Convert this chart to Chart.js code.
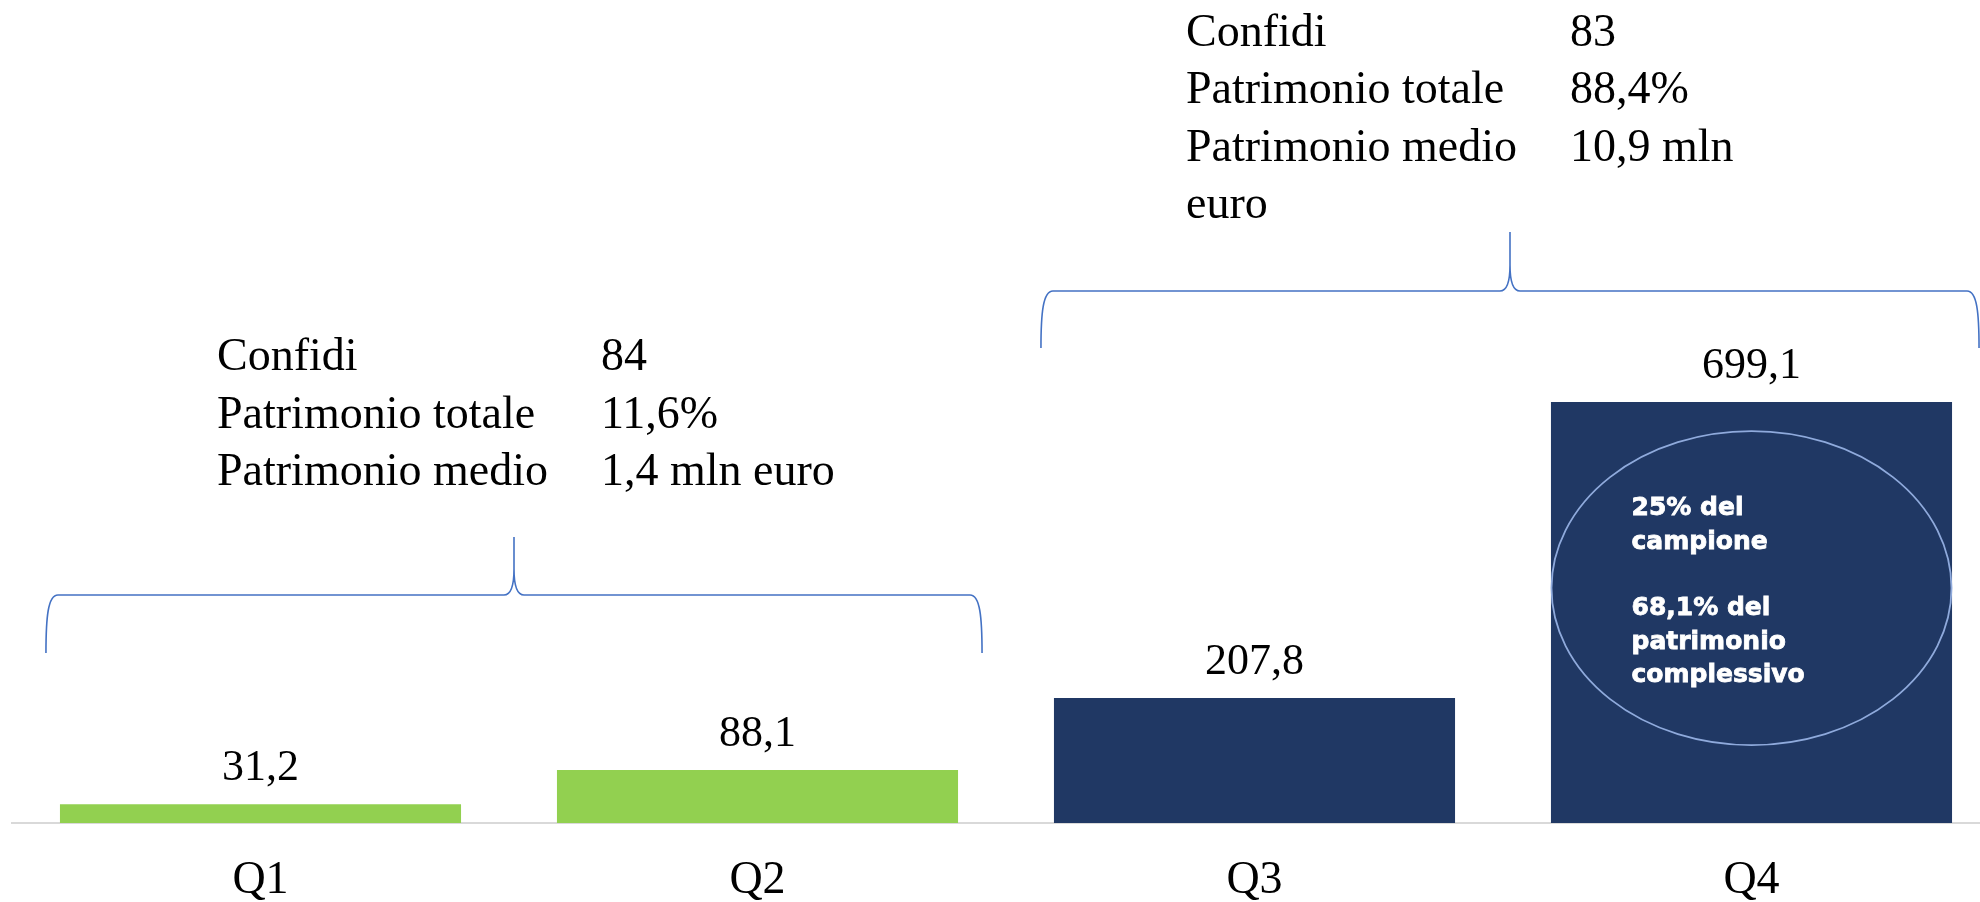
<!DOCTYPE html>
<html><head><meta charset="utf-8">
<script src="https://cdn.jsdelivr.net/npm/chart.js@4.4.0/dist/chart.umd.min.js"></script>
<style>
html,body{margin:0;padding:0;background:#fff;overflow:hidden;width:1980px;height:902px}
canvas{position:absolute;left:0;top:0}
</style></head>
<body><canvas id="c" width="2000" height="902"></canvas>
<script>
// ---- data ----
const categories = ['Q1', 'Q2', 'Q3', 'Q4'];
const values = [31.2, 88.1, 207.8, 699.1];
const barColors = ['#92D050', '#92D050', '#203864', '#203864'];
const leftGroupLabels = ['Confidi', 'Patrimonio totale', 'Patrimonio medio'];
const leftGroupValues = ['84', '11,6%', '1,4 mln euro'];
const rightGroupLabels = ['Confidi', 'Patrimonio totale', 'Patrimonio medio', 'euro'];
const rightGroupValues = ['83', '88,4%', '10,9 mln', ''];
const calloutLines = ['25% del', 'campione', '', '68,1% del', 'patrimonio', 'complessivo'];

const SERIF = '"Liberation Serif", "Times New Roman", serif';

function fmt(v) { return v.toFixed(1).replace('.', ','); }

function drawBrace(ctx, L, R, hy, bottom, tip) {
  const C = (L + R) / 2;
  ctx.beginPath();
  ctx.moveTo(L, bottom);
  ctx.bezierCurveTo(L, hy + 22, L + 2, hy, L + 12, hy);
  ctx.lineTo(C - 10, hy);
  ctx.bezierCurveTo(C - 3, hy, C, hy - 8, C, hy - 26);
  ctx.lineTo(C, tip);
  ctx.moveTo(C, hy - 26);
  ctx.bezierCurveTo(C, hy - 8, C + 3, hy, C + 10, hy);
  ctx.lineTo(R - 12, hy);
  ctx.bezierCurveTo(R - 2, hy, R, hy + 22, R, bottom);
  ctx.strokeStyle = '#4472C4';
  ctx.lineWidth = 1.6;
  ctx.stroke();
}

const annotate = {
  id: 'annotate',
  afterDatasetsDraw(chart) {
    const ctx = chart.ctx;
    const bars = chart.getDatasetMeta(0).data;
    ctx.save();
    // value labels
    ctx.fillStyle = '#000';
    ctx.font = '44px ' + SERIF;
    ctx.textAlign = 'center';
    ctx.textBaseline = 'alphabetic';
    bars.forEach((b, i) => ctx.fillText(fmt(values[i]), b.x, b.y - 24));

    // callout ellipse on Q4
    const b3 = bars[3];
    const cy = b3.y + 186;
    ctx.beginPath();
    ctx.ellipse(b3.x, cy, 200, 157, 0, 0, Math.PI * 2);
    ctx.strokeStyle = '#8FAADC';
    ctx.lineWidth = 1.8;
    ctx.stroke();
    ctx.fillStyle = '#fff';
    ctx.strokeStyle = '#fff';
    ctx.lineWidth = 0.8;
    ctx.font = 'bold 25px "DejaVu Sans", Verdana, sans-serif';
    ctx.textAlign = 'left';
    calloutLines.forEach((t, i) => {
      ctx.fillText(t, b3.x - 120, cy - 73 + i * 33.4);
      ctx.strokeText(t, b3.x - 120, cy - 73 + i * 33.4);
    });

    // braces
    const half = (b) => b.width / 2;
    drawBrace(ctx, bars[0].x - half(bars[0]) - 14, bars[1].x + half(bars[1]) + 24, 595, 653, 537);
    drawBrace(ctx, bars[2].x - half(bars[2]) - 13, bars[3].x + half(bars[3]) + 27, 291, 348, 232);

    // group text blocks
    ctx.fillStyle = '#000';
    ctx.font = '46px ' + SERIF;
    ctx.textAlign = 'left';
    leftGroupLabels.forEach((t, i) => {
      ctx.fillText(t, 217, 370 + i * 57.5);
      ctx.fillText(leftGroupValues[i], 601, 370 + i * 57.5);
    });
    rightGroupLabels.forEach((t, i) => {
      ctx.fillText(t, 1186, 46 + i * 57.3);
      ctx.fillText(rightGroupValues[i], 1570, 46 + i * 57.3);
    });
    ctx.restore();
  }
};

new Chart(document.getElementById('c'), {
  type: 'bar',
  data: {
    labels: categories,
    datasets: [{
      data: values,
      backgroundColor: barColors,
      borderWidth: 0,
      categoryPercentage: 1,
      barPercentage: 0.807
    }]
  },
  options: {
    responsive: false,
    animation: false,
    devicePixelRatio: 1,
    layout: { padding: { left: 12, right: 0, top: 0, bottom: 0 } },
    plugins: { legend: { display: false }, tooltip: { enabled: false } },
    scales: {
      x: {
        grid: { display: false, drawTicks: false },
        border: { display: true, color: '#D9D9D9', width: 2 },
        ticks: { color: '#000', padding: 30, font: { family: SERIF, size: 46, lineHeight: 1.2 } },
        afterFit(scale) { scale.height = 79; }
      },
      y: { display: false, min: 0, max: 1367 }
    }
  },
  plugins: [annotate]
});
</script>
</body></html>
